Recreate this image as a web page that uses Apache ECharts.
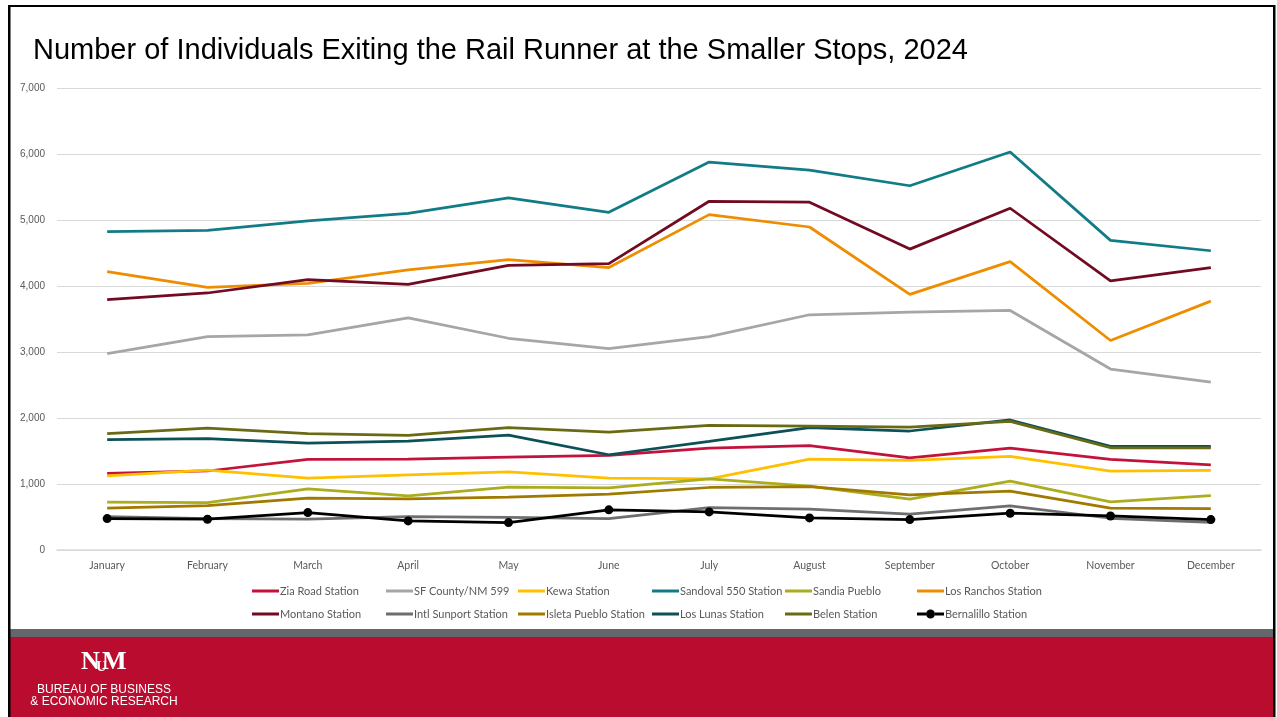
<!DOCTYPE html>
<html><head><meta charset="utf-8">
<script src="https://cdn.jsdelivr.net/npm/echarts@6/dist/echarts.min.js"></script>
<style>html,body{margin:0;padding:0;background:#fff}#c{width:1277px;height:717px}</style>
</head><body><div id="c"></div><script>
const months = ['January','February','March','April','May','June','July','August','September','October','November','December'];
const titleText = 'Number of Individuals Exiting the Rail Runner at the Smaller Stops, 2024';
const ziaRoad      = [1162,1197,1372,1377,1408,1433,1544,1580,1397,1544,1372,1291];
const sfCounty     = [2975,3233,3259,3518,3208,3051,3233,3564,3604,3629,2742,2544];
const kewa         = [1124,1210,1089,1139,1185,1089,1078,1377,1357,1418,1195,1205];
const sandoval550  = [4823,4843,4985,5101,5335,5117,5878,5757,5519,6030,4691,4534];
const sandiaPueblo = [724,719,927,820,952,942,1078,967,770,1043,729,825];
const losRanchos   = [4218,3980,4041,4244,4401,4279,5081,4894,3873,4370,3174,3771];
const montano      = [3792,3894,4096,4025,4314,4340,5284,5269,4559,5178,4076,4279];
const intlSunport  = [506,476,466,506,496,476,643,618,542,668,481,420];
const isletaPueblo = [633,673,785,775,800,846,947,962,835,891,633,628];
const losLunas     = [1671,1686,1620,1651,1742,1443,1646,1853,1803,1970,1570,1570];
const belen        = [1762,1848,1762,1737,1853,1787,1889,1878,1863,1949,1549,1549];
const bernalillo   = [476,466,567,441,415,608,577,486,461,557,516,461];

const seriesDefs = [
  ['Zia Road Station', ziaRoad, '#C3123C'],
  ['SF County/NM 599', sfCounty, '#A6A6A6'],
  ['Kewa Station', kewa, '#FFC000'],
  ['Sandoval 550 Station', sandoval550, '#127C86'],
  ['Sandia Pueblo', sandiaPueblo, '#ABAD1F'],
  ['Los Ranchos Station', losRanchos, '#EE8D00'],
  ['Montano Station', montano, '#720A22'],
  ['Intl Sunport Station', intlSunport, '#6E6E6E'],
  ['Isleta Pueblo Station', isletaPueblo, '#A07A00'],
  ['Los Lunas Station', losLunas, '#0C5058'],
  ['Belen Station', belen, '#6A6A14'],
  ['Bernalillo Station', bernalillo, '#000000']
];

const series = seriesDefs.map(([name, data, color]) => {
  const isB = name === 'Bernalillo Station';
  return {
    name, type: 'line', data,
    color,
    symbol: isB ? 'circle' : 'none',
    symbolSize: 9,
    showSymbol: isB,
    lineStyle: { width: 2.75, color },
    itemStyle: { color },
    emphasis: { disabled: true },
    animation: false
  };
});

// legend icons: plain line bar, or line with a dot for the marked series
const lineIcon = 'path://M0,0h0.01v0.01h-0.01z M0,5.5h27v3h-27z M27,13.99h0.01v0.01h-0.01z';
const dotIcon = 'path://M0,0h0.01v0.01h-0.01z M0,5.5h9v3h-9z M18,5.5h9v3h-9z M13.5,2.5a4.5,4.5 0 1,0 0.001,0z M27,13.99h0.01v0.01h-0.01z';

const colLefts = [247, 381, 513, 647, 780, 912];
const legends = colLefts.map((left, i) => ({
  orient: 'vertical',
  left, top: 579,
  itemWidth: 27, itemHeight: 14, itemGap: 9,
  data: [seriesDefs[i], seriesDefs[i + 6]].map(d => ({
    name: d[0], icon: d[0] === 'Bernalillo Station' ? dotIcon : lineIcon,
    itemStyle: { color: d[2], borderWidth: 0 }
  })),
  textStyle: { color: '#595959', fontSize: 11, fontFamily: 'Lato', padding: [0, 0, 0, -4] },
  selectedMode: false
}));

const chart = echarts.init(document.getElementById('c'), null, { renderer: 'canvas' });
chart.setOption({
  backgroundColor: '#ffffff',
  animation: false,
  title: {
    text: titleText, left: 28, top: 31,
    textStyle: { fontFamily: 'Liberation Sans', fontWeight: 'normal', fontSize: 29, color: '#000' }
  },
  grid: { left: 57, right: 16, top: 88, bottom: 167, containLabel: false },
  legend: legends,
  xAxis: {
    type: 'category', data: months, boundaryGap: true,
    axisLine: { lineStyle: { color: '#D9D9D9', width: 1.5 } },
    axisTick: { show: false },
    axisLabel: { color: '#595959', fontSize: 10.5, fontFamily: 'Lato', margin: 10 }
  },
  yAxis: {
    type: 'value', min: 0, max: 7000, interval: 1000,
    axisLine: { show: false }, axisTick: { show: false },
    splitLine: { lineStyle: { color: '#D9D9D9', width: 1 } },
    axisLabel: { color: '#595959', fontSize: 10, fontFamily: 'Liberation Sans', margin: 12,
      formatter: v => v.toLocaleString('en-US') }
  },
  graphic: [
    { type: 'rect', shape: { x: 10, y: 629, width: 1263, height: 8 }, style: { fill: '#63666A' }, z: 0 },
    { type: 'rect', shape: { x: 10, y: 637, width: 1263, height: 80 }, style: { fill: '#BA0C2F' }, z: 0 },
    { type: 'rect', shape: { x: 8, y: 5, width: 2.5, height: 712 }, style: { fill: '#000' }, z: 10 },
    { type: 'rect', shape: { x: 8, y: 5, width: 1267, height: 2 }, style: { fill: '#000' }, z: 10 },
    { type: 'rect', shape: { x: 1273, y: 5, width: 2.5, height: 712 }, style: { fill: '#000' }, z: 10 },
    { type: 'text', x: 81, y: 649, style: { text: 'N', font: 'bold 26px "Liberation Serif"', fill: '#fff' }, z: 5 },
    { type: 'text', x: 102, y: 649, style: { text: 'M', font: 'bold 26px "Liberation Serif"', fill: '#fff' }, z: 5 },
    { type: 'text', x: 96, y: 660, style: { text: 'U', font: 'bold 15px "Liberation Serif"', fill: '#fff' }, z: 5 },
    { type: 'text', x: 104, y: 690, style: { text: 'BUREAU OF BUSINESS', font: '12px "Liberation Sans"', fill: '#fff', textAlign: 'center', textVerticalAlign: 'middle' }, z: 5 },
    { type: 'text', x: 104, y: 702, style: { text: '& ECONOMIC RESEARCH', font: '12px "Liberation Sans"', fill: '#fff', textAlign: 'center', textVerticalAlign: 'middle' }, z: 5 }
  ],
  series
});
</script></body></html>
